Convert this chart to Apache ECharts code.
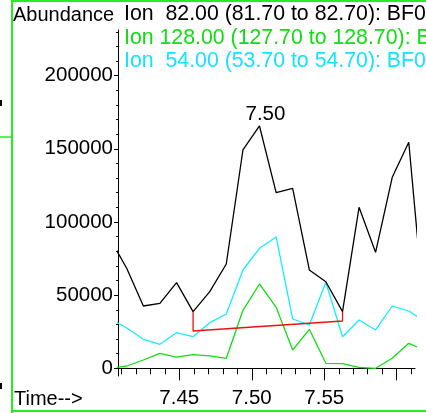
<!DOCTYPE html>
<html>
<head>
<meta charset="utf-8">
<script src="https://cdn.jsdelivr.net/npm/echarts@6/dist/echarts.min.js"></script>
<style>
    html, body { margin: 0; padding: 0; background: #fff; }
    #chart { width: 426px; height: 413px; }
</style>
</head>
<body>
<div id="chart"></div>
<script>
'use strict';

// scan times (min), one point before and after the visible window so the lines run to the edges
var times = [7.4023, 7.4137, 7.4252, 7.4366, 7.4481, 7.4595, 7.4710, 7.4824, 7.4939, 7.5053,
             7.5168, 7.5282, 7.5397, 7.5511, 7.5626, 7.5740, 7.5854, 7.5969, 7.6083, 7.6198];
var ion82  = [88400, 68350, 42580, 44430, 58510, 38690, 52360, 71290, 149210, 165610,
              120020, 123030, 67190, 59190, 38690, 110040, 79290, 130550, 154470, 29600];
var ion128 = [0, 1570, 5670, 10250, 7590, 9300, 8540, 6840, 39640, 57620,
              41690, 12510, 26660, 3420, 3140, 680, 0, 6840, 17090, 12170];
var ion54  = [33900, 27550, 19820, 16400, 24330, 21600, 31170, 37110, 67190, 82020,
              89740, 33700, 29600, 58780, 21600, 33010, 26180, 42580, 39160, 31900];

// integration baseline (red)
var baseTimes  = [7.4595, 7.4595, 7.5626, 7.5626];
var baseValues = [38690, 25490, 32330, 38690];

var peakLabel = '7.50';

var yLabels = [0, 50000, 100000, 150000, 200000];
var yMinorTicks = [0, 10000, 20000, 30000, 40000, 50000, 60000, 70000, 80000, 90000, 100000,
                   110000, 120000, 130000, 140000, 150000, 160000, 170000, 180000, 190000,
                   200000, 210000, 220000, 230000];
var xLabels = [7.45, 7.50, 7.55];
var xMajorTicks = [7.45, 7.50, 7.55, 7.60];
var xMinorTicks = [7.41, 7.42, 7.43, 7.44, 7.45, 7.46, 7.47, 7.48, 7.49, 7.50, 7.51,
                   7.52, 7.53, 7.54, 7.55, 7.56, 7.57, 7.58, 7.59, 7.60, 7.61];

var legendLines = [
    {text: 'Ion  82.00 (81.70 to 82.70): BF0', color: '#000000'},
    {text: 'Ion 128.00 (127.70 to 128.70): BF0', color: '#11dd11'},
    {text: 'Ion  54.00 (53.70 to 54.70): BF0', color: '#11e4ff'}
];

var FONT = '"Liberation Sans", Arial, sans-serif';
var X_MIN = 7.4077, X_MAX = 7.6126;
var Y_MIN = -5260, Y_MAX = 231200;

function pairs(xs, ys) {
    return xs.map(function (t, i) { return [t, ys[i]]; });
}

var chart = echarts.init(document.getElementById('chart'));

var peakIdx = ion82.indexOf(Math.max.apply(null, ion82));

var graphics = [
    // frame
    {type: 'line', shape: {x1: 12, y1: 0, x2: 12, y2: 413}, style: {stroke: '#22ee22', lineWidth: 2}},
    {type: 'line', shape: {x1: 12, y1: 1, x2: 426, y2: 1}, style: {stroke: '#22ee22', lineWidth: 2}},
    {type: 'line', shape: {x1: 12, y1: 411, x2: 426, y2: 411}, style: {stroke: '#22ee22', lineWidth: 2}},
    {type: 'line', shape: {x1: 0, y1: 137, x2: 11, y2: 137}, style: {stroke: '#22ee22', lineWidth: 1.5}},
    {type: 'rect', shape: {x: 0, y: 100, width: 2, height: 6}, style: {fill: '#000'}},
    {type: 'rect', shape: {x: 0, y: 383, width: 2, height: 6}, style: {fill: '#000'}},
    {type: 'text', left: 13, top: 5, style: {text: 'Abundance', font: '20px ' + FONT, fill: '#000'}},
    {type: 'text', left: 14, top: 389, style: {text: 'Time-->', font: '20px ' + FONT, fill: '#000'}}
];
legendLines.forEach(function (l, i) {
    graphics.push({
        type: 'text', left: 124, top: 4 + i * 23.4,
        style: {text: l.text, font: '21.3px ' + FONT, fill: l.color}
    });
});

var option = {
    animation: false,
    backgroundColor: '#fff',
    grid: {left: 118, right: 11, top: 30, bottom: 37, containLabel: false},
    xAxis: [
        {
            type: 'value', min: X_MIN, max: X_MAX,
            axisLine: {show: true, lineStyle: {color: '#000', width: 1}},
            axisTick: {show: true, length: 12, customValues: xMajorTicks, lineStyle: {color: '#000'}},
            axisLabel: {
                show: true, customValues: xLabels, margin: 12,
                color: '#000', fontSize: 20.5, fontFamily: FONT,
                formatter: function (v) { return v.toFixed(2); }
            },
            splitLine: {show: false}
        },
        {
            type: 'value', min: X_MIN, max: X_MAX, position: 'bottom',
            axisLine: {show: false},
            axisTick: {show: true, length: 6, customValues: xMinorTicks, lineStyle: {color: '#000'}},
            axisLabel: {show: false},
            splitLine: {show: false}
        }
    ],
    yAxis: [
        {
            type: 'value', min: Y_MIN, max: Y_MAX,
            axisLine: {show: true, lineStyle: {color: '#000', width: 1}},
            axisTick: {show: true, length: 4, customValues: yLabels, lineStyle: {color: '#000'}},
            axisLabel: {
                show: true, customValues: yLabels, margin: 5,
                color: '#000', fontSize: 20.5, fontFamily: FONT,
                formatter: function (v) { return String(v); }
            },
            splitLine: {show: false}
        },
        {
            type: 'value', min: Y_MIN, max: Y_MAX, position: 'left',
            axisLine: {show: false},
            axisTick: {show: true, length: 2, customValues: yMinorTicks, lineStyle: {color: '#000'}},
            axisLabel: {show: false},
            splitLine: {show: false}
        }
    ],
    series: [
        {
            name: 'Ion 128.00', type: 'line', data: pairs(times, ion128),
            symbol: 'none', lineStyle: {color: '#11dd11', width: 1.3}
        },
        {
            name: 'Ion 54.00', type: 'line', data: pairs(times, ion54),
            symbol: 'none', lineStyle: {color: '#11eeff', width: 1.3}
        },
        {
            name: 'Ion 82.00', type: 'line', data: pairs(times, ion82),
            symbol: 'none', lineStyle: {color: '#000', width: 1.3},
            markPoint: {
                symbol: 'circle', symbolSize: 0, silent: true,
                label: {
                    show: true, position: 'top', distance: 1, offset: [6, 0],
                    formatter: peakLabel, color: '#000', fontSize: 20.5, fontFamily: FONT
                },
                data: [{coord: [times[peakIdx], ion82[peakIdx]]}]
            }
        },
        {
            name: 'baseline', type: 'line', data: pairs(baseTimes, baseValues),
            symbol: 'none', lineStyle: {color: '#ee1111', width: 1.3}
        }
    ],
    graphic: graphics
};

chart.setOption(option);
</script>
</body>
</html>
